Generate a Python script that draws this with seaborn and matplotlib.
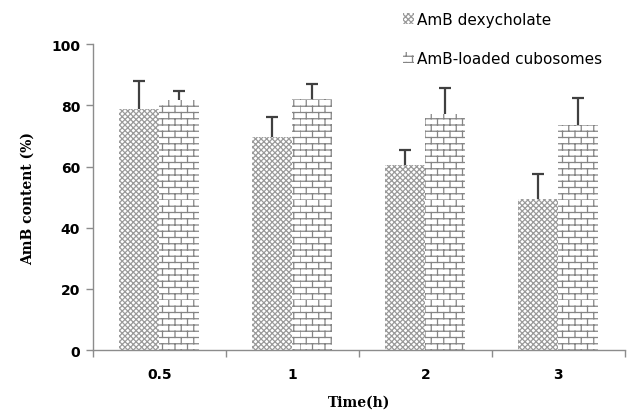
import warnings
import numpy as np
import pandas as pd
import matplotlib
matplotlib.use("Agg")
import matplotlib.pyplot as plt
import matplotlib.hatch as mhatch
from matplotlib.path import Path
from matplotlib.patches import Patch
import seaborn as sns

warnings.filterwarnings("ignore")

# ---- data ----
times = ["0.5", "1", "2", "3"]
series = ["AmB dexycholate", "AmB-loaded cubosomes"]
dex_values = [78.8, 69.6, 60.5, 49.3]
dex_err = [9.2, 6.5, 4.9, 8.2]
cubo_values = [81.7, 82.0, 77.1, 73.5]
cubo_err = [2.9, 4.9, 8.5, 8.9]
y_ticks = [0, 20, 40, 60, 80, 100]


# ---- custom brick hatch ('b') ----
class BrickHatch(mhatch.HatchPatternBase):
    def __init__(self, hatch, density):
        n = hatch.count('b')
        self.rows = 16 if n else 0
        self.cols = 8
        self.num_vertices = self.rows * 2 + self.rows * self.cols * 2

    def set_vertices_and_codes(self, vertices, codes):
        rows, cols = self.rows, self.cols
        h = 1.0 / rows
        w = 1.0 / cols
        k = 0
        for r in range(rows):
            y = r * h
            vertices[k] = (0.0, y); codes[k] = Path.MOVETO; k += 1
            vertices[k] = (1.0, y); codes[k] = Path.LINETO; k += 1
        for r in range(rows):
            y0 = r * h
            off = 0.0 if r % 2 == 0 else w / 2
            for c in range(cols):
                x = (c * w + off) % 1.0
                vertices[k] = (x, y0); codes[k] = Path.MOVETO; k += 1
                vertices[k] = (x, y0 + h); codes[k] = Path.LINETO; k += 1


mhatch._hatch_types.append(BrickHatch)

sns.set_theme(style="white")
plt.rcParams["font.family"] = ["DejaVu Sans"]
plt.rcParams["hatch.linewidth"] = 0.9
plt.rcParams["text.color"] = "black"
plt.rcParams["xtick.labelcolor"] = "black"
plt.rcParams["ytick.labelcolor"] = "black"
plt.rcParams["axes.labelcolor"] = "black"

df = pd.DataFrame({
    "Time": times * 2,
    "Series": [series[0]] * len(times) + [series[1]] * len(times),
    "Value": dex_values + cubo_values,
})

fig = plt.figure(figsize=(6.35, 4.14), dpi=100)
ax = fig.add_axes([0.146, 0.152, 0.838, 0.739])

sns.barplot(data=df, x="Time", y="Value", hue="Series", order=times,
            hue_order=series, width=0.6, errorbar=None, ax=ax,
            palette=["white", "white"], legend=False)

dex_gray = "#9a9a9a"
brick_gray = "#858585"
n = len(times)
for i, p in enumerate(ax.patches[:2 * n]):
    p.set_facecolor("white")
    p.set_edgecolor(dex_gray if i < n else brick_gray)
    p.set_linewidth(0)
    p.set_hatch("xxxxxx" if i < n else "b")

errs = [dex_err, cubo_err]
vals = [dex_values, cubo_values]
ecol = "#404040"
for s in range(2):
    xs = [p.get_x() + p.get_width() / 2 for p in ax.patches[s * n:(s + 1) * n]]
    tops = [v + e for v, e in zip(vals[s], errs[s])]
    ax.vlines(xs, vals[s], tops, colors=ecol, linewidth=1.6, zorder=3)
    ax.plot(xs, tops, ls="none", marker="_", ms=8, mew=1.6, color=ecol,
            zorder=3)

ax.set_ylim(0, 100)
ax.set_xlim(-0.5, n - 0.5)
ax.set_yticks(y_ticks)
ax.set_xticks(range(n))
ax.set_xticklabels(times)
ax.set_xticks(np.arange(-0.5, n, 1.0), minor=True)
gray = "#8c8c8c"
ax.tick_params(axis="x", which="major", length=0, pad=12, labelsize=10)
ax.tick_params(axis="x", which="minor", length=5, width=1, color=gray,
               direction="out", bottom=True)
ax.tick_params(axis="y", length=5, width=1, color=gray, direction="out",
               left=True, labelsize=10, pad=4)
for lab in ax.get_xticklabels() + ax.get_yticklabels():
    lab.set_fontweight("bold")

for side in ["top", "right"]:
    ax.spines[side].set_visible(False)
for side in ["left", "bottom"]:
    ax.spines[side].set_color(gray)
    ax.spines[side].set_linewidth(1)

ax.set_xlabel("Time(h)", fontfamily="DejaVu Serif", fontweight="bold",
              fontsize=10, labelpad=10)
ax.set_ylabel("AmB content (%)", fontfamily="DejaVu Serif",
              fontweight="bold", fontsize=10, labelpad=12)

handles = [Patch(facecolor="white", edgecolor=dex_gray, linewidth=0, hatch="xxxxxx"),
           Patch(facecolor="white", edgecolor=brick_gray, linewidth=0, hatch="b")]
fig.legend(handles, series, loc="upper left", bbox_to_anchor=(0.613, 1.003),
           frameon=False, fontsize=11, labelspacing=1.6, handlelength=0.7,
           handleheight=0.7, handletextpad=0.2)

fig.savefig("out.png", dpi=100, facecolor="white")
